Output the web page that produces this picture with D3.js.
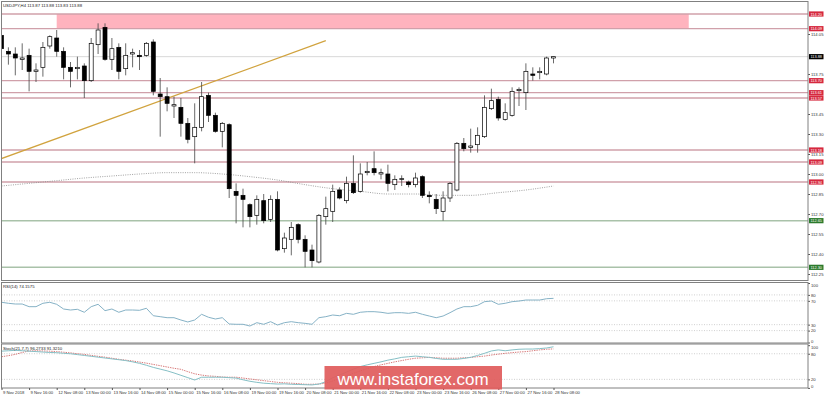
<!DOCTYPE html>
<meta charset="utf-8">
<script src="https://d3js.org/d3.v7.min.js"></script>
<style>
  body { margin: 0; background: #fff; }
  text { font-family: "Liberation Sans", Arial, sans-serif; }
</style>
<div id="my_dataviz"></div>
<script>

// ---- data ----
var open = [114.04,113.92,113.90,113.86,113.89,113.77,113.80,113.96,114.02,113.92,
  113.80,113.79,113.81,113.70,113.97,114.10,113.86,113.95,113.79,113.90,
  113.89,113.89,113.99,113.60,113.58,113.51,113.50,113.38,113.28,113.35,
  113.59,113.44,113.32,113.37,112.87,112.84,112.77,112.69,112.80,112.66,
  112.81,112.44,112.51,112.62,112.51,112.43,112.34,112.68,112.72,112.88,
  112.80,112.93,112.87,113.01,113.04,113.00,113.00,112.92,112.96,112.94,
  112.92,112.98,112.84,112.81,112.72,112.82,112.88,113.23,113.20,113.22,
  113.28,113.49,113.56,113.41,113.44,113.625,113.61,113.75,113.76,113.75,
  113.87];
var high = [114.06,113.95,113.95,113.98,113.94,113.83,113.99,114.04,114.08,113.95,
  113.84,113.88,113.83,114.02,114.13,114.13,114.02,113.98,113.98,113.94,
  113.93,113.99,114.01,113.72,113.65,113.58,113.57,113.42,113.53,113.69,
  113.61,113.46,113.39,113.38,112.93,112.89,112.78,112.84,112.85,112.84,
  112.87,112.56,112.64,112.63,112.54,112.47,112.70,112.83,112.92,112.90,
  112.98,113.14,113.08,113.09,113.17,113.04,113.07,112.99,112.99,112.95,
  113.01,112.99,112.87,112.85,112.87,112.94,113.24,113.27,113.34,113.35,
  113.59,113.64,113.58,113.53,113.65,113.65,113.83,113.80,113.80,113.88,
  113.88];
var low = [113.87,113.82,113.74,113.78,113.62,113.69,113.73,113.94,113.88,113.71,
  113.65,113.71,113.57,113.69,113.90,113.85,113.78,113.71,113.74,113.80,
  113.78,113.88,113.59,113.28,113.47,113.42,113.28,113.23,113.08,113.32,
  113.39,113.31,113.20,112.82,112.63,112.60,112.60,112.62,112.63,112.64,
  112.42,112.41,112.39,112.48,112.30,112.30,112.33,112.62,112.64,112.81,
  112.78,112.85,112.86,112.99,112.99,112.96,112.87,112.88,112.91,112.90,
  112.90,112.82,112.78,112.70,112.65,112.79,112.87,113.17,113.16,113.16,
  113.27,113.48,113.40,113.40,113.43,113.51,113.48,113.70,113.71,113.74,
  113.83];
var close = [113.94,113.90,113.87,113.87,113.77,113.78,113.95,114.03,113.92,113.80,
  113.77,113.80,113.70,113.98,114.08,113.86,113.94,113.77,113.89,113.91,
  113.88,113.98,113.62,113.58,113.53,113.52,113.38,113.26,113.35,113.58,
  113.44,113.32,113.38,112.89,112.84,112.81,112.68,112.81,112.65,112.81,
  112.43,112.52,112.60,112.51,112.42,112.35,112.69,112.74,112.87,112.82,
  112.93,112.86,113.00,113.02,113.01,113.01,112.93,112.96,112.965,112.92,
  112.97,112.84,112.83,112.74,112.82,112.93,113.23,113.19,113.21,113.29,
  113.50,113.55,113.42,113.46,113.62,113.635,113.77,113.74,113.77,113.87,
  113.88];

// slow moving average (dotted), read every 4th bar
var maBar = [0,4,8,12,16,20,24,28,32,36,40,44,48,52,56,60,64,68,72,76,80];
var maVal = [112.91,112.93,112.95,112.97,112.985,113.00,113.01,113.01,113.00,112.98,
  112.955,112.92,112.89,112.87,112.85,112.85,112.84,112.84,112.86,112.88,112.91];

var rsi = [67.6,65.9,64.7,64.7,60.2,60.2,65.9,67.6,64.2,56.3,
  54.6,55.8,50.8,60.2,64.2,53.5,56.3,50.8,54.6,54.6,
  54.1,57.5,45.0,43.4,41.7,41.7,37.8,34.5,37.8,47.4,
  42.4,39.5,41.7,31.1,30.6,30.6,27.7,33.3,30.6,35.0,
  29.4,33.3,35.0,33.3,32.2,30.6,41.7,43.4,46.2,45.0,
  49.0,47.4,50.8,51.8,51.8,50.8,49.0,50.1,50.1,49.0,
  50.8,47.4,44.5,41.7,44.5,50.1,56.3,60.2,60.2,62.5,
  68.6,69.7,64.2,65.9,68.6,69.7,71.4,71.4,71.4,73.6,
  74.2];
var stochMain = [86,87,88,87,86,85,84,83,82.5,81,
  80,78,76,74,72,70,68,66,64,61,
  57.5,53,48,44,40,35,29.5,24,18.5,25,
  25,25,25,24,23,19,15.5,13,11,10,
  9,9.5,8.5,8,7.5,7,9,14.5,24,30,
  37,44,50,54,57.5,61,65,68,71.5,73,
  74.5,73,71.5,69,67,67,67,69,71.5,76,
  81,86.5,89,87,89,90.5,91,91,92,93.5,
  96.3];
var stochSignal = [73,75.5,78.5,83,86.5,87,86.5,86,85,83.5,
  82,80,78.5,76,74,72,69.5,67,65,63,
  60.5,58,55,52,49,46,43.5,38,33,30,
  28,27,25.5,25,25,23,21,19,17,15,
  13,12,11,10,8.5,8.5,9,11,16,22,
  28,34,40,45,50,54,57.5,61,64,67,
  69.5,70.5,71.5,70.5,69.5,69.5,69.5,70.5,71.5,73,
  74.5,77,79,81,82.5,84,85,87,89,90.5,
  91.3];

var redLevels = [114.20, 114.09, 113.70, 113.61, 113.57, 113.18, 113.09, 112.94];
var greenLevels = [112.65, 112.30];
var lastPrice = 113.88;
var zone = {fromBar: 8, toBar: 99.6, top: 114.20, bottom: 114.09};
var trend = [{bar: -0.3, price: 113.11}, {bar: 47, price: 114.00}];

var priceTicks = [114.20,114.05,113.90,113.75,113.60,113.45,113.30,113.15,113.00,112.85,112.70,112.55,112.40,112.25];
var rsiTicks = [100, 80, 70, 30, 20, 0];
var stochTicks = [100, 80, 20, 0];
var timeLabels = ["9 Nov 2018","9 Nov 16:00","12 Nov 08:00","13 Nov 00:00","13 Nov 16:00","14 Nov 08:00",
  "15 Nov 00:00","15 Nov 16:00","16 Nov 08:00","19 Nov 00:00","19 Nov 16:00","20 Nov 08:00",
  "21 Nov 00:00","21 Nov 16:00","22 Nov 08:00","23 Nov 00:00","23 Nov 16:00","26 Nov 08:00",
  "27 Nov 00:00","27 Nov 16:00","28 Nov 08:00"];

// ---- layout ----
var W = 825, H = 397;
var left = 1.5, right = 808;
var main = {top: 1.5, bottom: 280.5};
var rsiP = {top: 282.5, bottom: 343};
var stP = {top: 344, bottom: 388};

var svg = d3.select("#my_dataviz")
  .append("svg")
    .attr("width", W)
    .attr("height", H);

var bars = d3.range(open.length);

// scales
var x = d3.scaleLinear().domain([0, 80]).range([1.5, 553.5]);
var y = d3.scaleLinear().domain([112.25, 114.05]).range([274, 34]);
var yR = d3.scaleLinear().domain([0, 100]).range([342.5, 283]);
var yS = d3.scaleLinear().domain([0, 100]).range([387.9, 345.2]);

// clip for the price panel
svg.append("clipPath").attr("id", "clipMain")
  .append("rect").attr("x", left).attr("y", main.top)
  .attr("width", right - left).attr("height", main.bottom - main.top);

var gMain = svg.append("g").attr("clip-path", "url(#clipMain)");

// resistance zone
gMain.append("rect")
  .attr("x", x(zone.fromBar))
  .attr("y", y(zone.top))
  .attr("width", x(zone.toBar) - x(zone.fromBar))
  .attr("height", y(zone.bottom) - y(zone.top))
  .attr("fill", "#ffb3be");

// current price line
gMain.append("line")
  .attr("x1", left).attr("x2", right)
  .attr("y1", y(lastPrice)).attr("y2", y(lastPrice))
  .attr("stroke", "#d8d8d8").attr("stroke-width", 1);

// horizontal levels
gMain.selectAll(".red").data(redLevels).enter().append("line")
  .attr("x1", left).attr("x2", right)
  .attr("y1", function(d) { return y(d); }).attr("y2", function(d) { return y(d); })
  .attr("stroke", "#d0a0aa").attr("stroke-width", 1.3);
gMain.selectAll(".green").data(greenLevels).enter().append("line")
  .attr("x1", left).attr("x2", right)
  .attr("y1", function(d) { return y(d); }).attr("y2", function(d) { return y(d); })
  .attr("stroke", "#a9c2a9").attr("stroke-width", 1.5);

// moving average (dotted)
gMain.append("path")
  .datum(maBar)
  .attr("fill", "none")
  .attr("stroke", "#8a8a8a")
  .attr("stroke-width", 0.8)
  .attr("stroke-dasharray", "1,1.3")
  .attr("d", d3.line()
    .curve(d3.curveMonotoneX)
    .x(function(d) { return x(d); })
    .y(function(d, i) { return y(maVal[i]); }));

// trend line
gMain.append("line")
  .attr("x1", x(trend[0].bar)).attr("y1", y(trend[0].price))
  .attr("x2", x(trend[1].bar)).attr("y2", y(trend[1].price))
  .attr("stroke", "#d1a33e").attr("stroke-width", 1.2);

// candles: wicks
gMain.selectAll(".wick").data(bars).enter().append("line")
  .attr("x1", function(i) { return x(i); }).attr("x2", function(i) { return x(i); })
  .attr("y1", function(i) { return y(high[i]); })
  .attr("y2", function(i) { return y(low[i]); })
  .attr("stroke", "#444").attr("stroke-width", 0.8);

// candles: bodies
gMain.selectAll(".body").data(bars).enter().append("rect")
  .attr("x", function(i) { return x(i) - 2; })
  .attr("y", function(i) { return y(Math.max(open[i], close[i])); })
  .attr("width", 4)
  .attr("height", function(i) { return Math.max(0.8, Math.abs(y(open[i]) - y(close[i]))); })
  .attr("fill", function(i) { return close[i] >= open[i] ? "#fff" : "#000"; })
  .attr("stroke", "#000")
  .attr("stroke-width", 0.7);

// title
svg.append("text").attr("x", 3).attr("y", 6.5)
  .attr("font-size", 4.3).attr("fill", "#222")
  .text("USDJPY,H4  113.87 113.88 113.83 113.88");

// price axis on the right
var labelPrices = redLevels.concat(greenLevels, [lastPrice]);
var shownTicks = priceTicks.filter(function(t) {
  return labelPrices.every(function(p) { return Math.abs(y(p) - y(t)) > 2.9; });
});
var yAxis = svg.append("g")
  .attr("transform", "translate(" + right + ",0)")
  .call(d3.axisRight(y).tickValues(shownTicks).tickSize(2).tickPadding(1)
    .tickFormat(d3.format(".2f")));
yAxis.select(".domain").remove();
yAxis.selectAll("text").attr("font-size", 4.2).attr("fill", "#333");
yAxis.selectAll("line").attr("stroke", "#555");

// level labels
function priceLabel(p, col) {
  var g = svg.append("g").attr("transform", "translate(809," + y(p) + ")");
  g.append("rect").attr("x", 0).attr("y", -2.6).attr("width", 14.5).attr("height", 5.2)
    .attr("fill", col);
  g.append("text").attr("x", 7.2).attr("y", 1.5).attr("text-anchor", "middle")
    .attr("font-size", 3.9).attr("fill", "#fff").text(p.toFixed(2));
}
redLevels.forEach(function(p) { priceLabel(p, "#d6283e"); });
greenLevels.forEach(function(p) { priceLabel(p, "#2c7a2c"); });
priceLabel(lastPrice, "#000");

// ---- RSI panel ----
[80, 70, 30, 20].forEach(function(v) {
  svg.append("line").attr("x1", left).attr("x2", right)
    .attr("y1", yR(v)).attr("y2", yR(v))
    .attr("stroke", "#c4c4c4").attr("stroke-width", 0.8).attr("stroke-dasharray", "1,1.5");
});
svg.append("path")
  .datum(bars)
  .attr("fill", "none")
  .attr("stroke", "#86b2c6")
  .attr("stroke-width", 1)
  .attr("d", d3.line()
    .x(function(i) { return x(i); })
    .y(function(i) { return yR(rsi[i]); }));
svg.append("text").attr("x", 3).attr("y", 287.5)
  .attr("font-size", 4.3).attr("fill", "#222").text("RSI(14) 74.1575");

var rAxis = svg.append("g")
  .attr("transform", "translate(" + right + ",0)")
  .call(d3.axisRight(yR).tickValues(rsiTicks).tickSize(2).tickPadding(1));
rAxis.select(".domain").remove();
rAxis.selectAll("text").attr("font-size", 4.2).attr("fill", "#333")
  .attr("dy", function(d) { return d === 100 ? "0.9em" : d === 0 ? "-0.1em" : "0.32em"; });
rAxis.selectAll("line").attr("stroke", "#555");

// ---- Stochastic panel ----
[80, 20].forEach(function(v) {
  svg.append("line").attr("x1", left).attr("x2", right)
    .attr("y1", yS(v)).attr("y2", yS(v))
    .attr("stroke", "#c4c4c4").attr("stroke-width", 0.8).attr("stroke-dasharray", "1,1.5");
});
svg.append("path")
  .datum(bars)
  .attr("fill", "none")
  .attr("stroke", "#d26a6a")
  .attr("stroke-width", 0.9)
  .attr("stroke-dasharray", "1.4,1")
  .attr("d", d3.line()
    .x(function(i) { return x(i); })
    .y(function(i) { return yS(stochSignal[i]); }));
svg.append("path")
  .datum(bars)
  .attr("fill", "none")
  .attr("stroke", "#86c0c6")
  .attr("stroke-width", 1)
  .attr("d", d3.line()
    .x(function(i) { return x(i); })
    .y(function(i) { return yS(stochMain[i]); }));
svg.append("text").attr("x", 3).attr("y", 349.5)
  .attr("font-size", 4.3).attr("fill", "#222").text("Stoch(21,7,7) 96.2733 91.3210");

var sAxis = svg.append("g")
  .attr("transform", "translate(" + right + ",0)")
  .call(d3.axisRight(yS).tickValues(stochTicks).tickSize(2).tickPadding(1));
sAxis.select(".domain").remove();
sAxis.selectAll("text").attr("font-size", 4.2).attr("fill", "#333")
  .attr("dy", function(d) { return d === 100 ? "0.7em" : d === 0 ? "-0.1em" : "0.32em"; });
sAxis.selectAll("line").attr("stroke", "#555");

// panel frames
[main, rsiP, stP].forEach(function(p) {
  svg.append("rect").attr("x", left).attr("y", p.top)
    .attr("width", right - left).attr("height", p.bottom - p.top)
    .attr("fill", "none").attr("stroke", "#808080").attr("stroke-width", 1);
});

// time axis
var xAxis = svg.append("g")
  .attr("transform", "translate(0," + stP.bottom + ")")
  .call(d3.axisBottom(x)
    .tickValues(d3.range(0, 81, 4))
    .tickSize(2).tickPadding(1.5)
    .tickFormat(function(d, i) { return timeLabels[i]; }));
xAxis.select(".domain").remove();
xAxis.selectAll("text").attr("font-size", 4.2).attr("fill", "#333")
  .attr("text-anchor", "start").attr("dx", 1);
xAxis.selectAll("line").attr("stroke", "#555");

// watermark
svg.append("rect").attr("x", 324.5).attr("y", 366).attr("width", 177.5).attr("height", 23.5)
  .attr("fill", "#e05c5c").attr("opacity", 0.93);
svg.append("text").attr("x", 413).attr("y", 384.5).attr("text-anchor", "middle")
  .attr("font-size", 17).attr("fill", "#fff").text("www.instaforex.com");

</script>
